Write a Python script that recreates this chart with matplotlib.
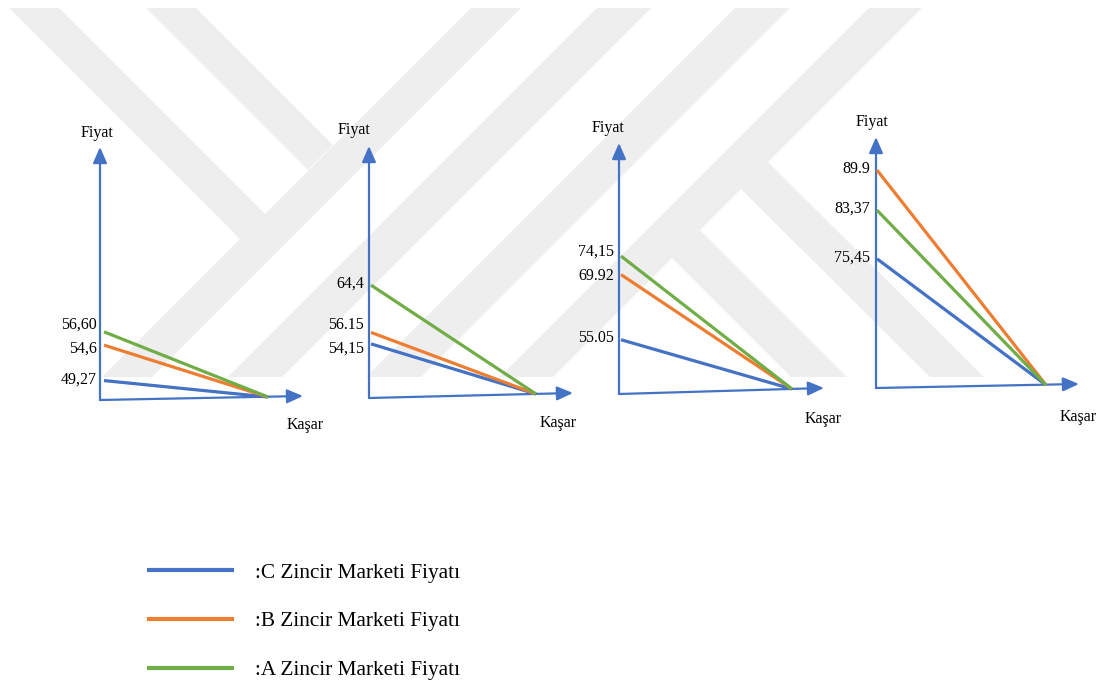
import matplotlib
matplotlib.use('Agg')
import matplotlib.pyplot as plt
from matplotlib.patches import Polygon, FancyArrowPatch

plt.rcParams['font.family'] = ['Liberation Serif', 'DejaVu Serif']

# prices of each chain market, one value per panel (left to right)
c_prices = [49.27, 54.15, 55.05, 75.45]
b_prices = [54.6, 56.15, 69.92, 89.9]
a_prices = [56.60, 64.4, 74.15, 83.37]
c_labels = ['49,27', '54,15', '55.05', '75,45']
b_labels = ['54,6', '56.15', '69.92', '89.9']
a_labels = ['56,60', '64,4', '74,15', '83,37']
series_names = [':C Zincir Marketi Fiyatı', ':B Zincir Marketi Fiyatı',
                ':A Zincir Marketi Fiyatı']
x_name = 'Kaşar'
y_name = 'Fiyat'

W, H = 1104, 681
BLUE = '#4472C4'
ORANGE = '#ED7D31'
GREEN = '#70AD47'
WMARK = '#eeeeee'

# panel layout in pixels (y down): axis origin, arrow tips, where the lines
# start / meet, and the price scale of the schematic y axis
panels = [
    dict(ox=100, oy=400, ytip=147, sx=104, cx=268, cy=397, xtip=(303, 396),
         v0=46.8, ppu=6.65, fiyat=(97, 133), kasar=(305, 425)),
    dict(ox=369, oy=398, ytip=146, sx=371, cx=536, cy=394, xtip=(573, 393),
         v0=45.4, ppu=5.73, fiyat=(354, 130), kasar=(558, 423)),
    dict(ox=619, oy=394, ytip=143, sx=621, cx=792, cy=389, xtip=(824, 388),
         v0=43.8, ppu=4.38, fiyat=(608, 128), kasar=(823, 419)),
    dict(ox=876, oy=388, ytip=137, sx=877, cx=1046, cy=385, xtip=(1079, 384),
         v0=54.9, ppu=6.14, fiyat=(872, 122), kasar=(1078, 417)),
]


def spread(ys, gap):
    # push label positions apart so they do not overlap
    order = sorted(range(len(ys)), key=lambda k: ys[k])
    out = list(ys)
    for _ in range(100):
        moved = False
        for a, b in zip(order, order[1:]):
            d = out[b] - out[a]
            if d < gap - 0.01:
                shift = (gap - d) / 2
                out[a] -= shift
                out[b] += shift
                moved = True
        if not moved:
            break
    return out


fig = plt.figure(figsize=(W / 100, H / 100), dpi=100)
bg = fig.add_axes([0, 0, 1, 1])
bg.set_xlim(0, W)
bg.set_ylim(H, 0)
bg.axis('off')

# faint background watermark made of 45 degree stripes
stripes = [
    [(9, 8), (59, 8), (265, 214), (240, 239)],
    [(146, 8), (196, 8), (333, 145), (308, 170)],
    [(471, 8), (521, 8), (152, 377), (102, 377)],
    [(597, 8), (651, 8), (282, 377), (228, 377)],
    [(735, 8), (790, 8), (421, 377), (366, 377)],
    [(869, 8), (922, 8), (553, 377), (500, 377)],
    [(672, 258), (700, 230), (847, 377), (791, 377)],
    [(741, 189), (768, 162), (984, 377), (930, 377)],
]
for s in stripes:
    bg.add_patch(Polygon(s, closed=True, fc=WMARK, ec='none', zorder=0))

handles = []
for i, p in enumerate(panels):
    # arrows of the two hand drawn axes
    arr = '-|>,head_length=0.8,head_width=0.35'
    bg.add_patch(FancyArrowPatch((p['ox'], p['oy']), (p['ox'], p['ytip']),
                                 arrowstyle=arr, mutation_scale=12, color=BLUE,
                                 lw=1.6, shrinkA=0, shrinkB=0, zorder=2))
    bg.add_patch(FancyArrowPatch((p['ox'], p['oy']), p['xtip'],
                                 arrowstyle=arr, mutation_scale=12, color=BLUE,
                                 lw=1.6, shrinkA=0, shrinkB=0, zorder=2))
    bg.text(p['fiyat'][0], p['fiyat'][1], y_name, fontsize=11.5,
            ha='center', va='center')
    bg.text(p['kasar'][0], p['kasar'][1], x_name, fontsize=11.5,
            ha='center', va='center')

    ax = fig.add_axes([p['sx'] / W, 1 - p['cy'] / H,
                       (p['cx'] - p['sx']) / W, 260 / H])
    ax.set_xlim(0, 1)
    ax.set_ylim(p['v0'], p['v0'] + 260 / p['ppu'])
    ax.axis('off')
    rows = [(c_prices[i], c_labels[i], BLUE),
            (b_prices[i], b_labels[i], ORANGE),
            (a_prices[i], a_labels[i], GREEN)]
    row = []
    for price, lab, col in rows:
        ln, = ax.plot([0, 1], [price, p['v0']], color=col, lw=2.3,
                      solid_capstyle='butt', clip_on=False)
        row.append(ln)
    if i == 0:
        handles = row

    # value labels next to the y axis, kept apart from each other
    ys = [ax.transData.transform((0, r[0]))[1] for r in rows]
    new_ys = spread(ys, 24)
    for (price, lab, col), y0, y1 in zip(rows, ys, new_ys):
        ax.annotate(lab, xy=(0, price), xycoords=('axes fraction', 'data'),
                    xytext=(-5, (y1 - y0) * 0.72 + 1), textcoords='offset points',
                    ha='right', va='center', fontsize=11.5)

leg = fig.legend(handles, series_names, loc='upper left',
                 bbox_to_anchor=(147 / W, 1 - 563 / H), frameon=False,
                 fontsize=15.3, handlelength=4.1, handletextpad=1.0,
                 labelspacing=1.35, borderpad=0, borderaxespad=0)
for ln in leg.get_lines():
    ln.set_linewidth(3)

fig.savefig('out.png', dpi=100)
